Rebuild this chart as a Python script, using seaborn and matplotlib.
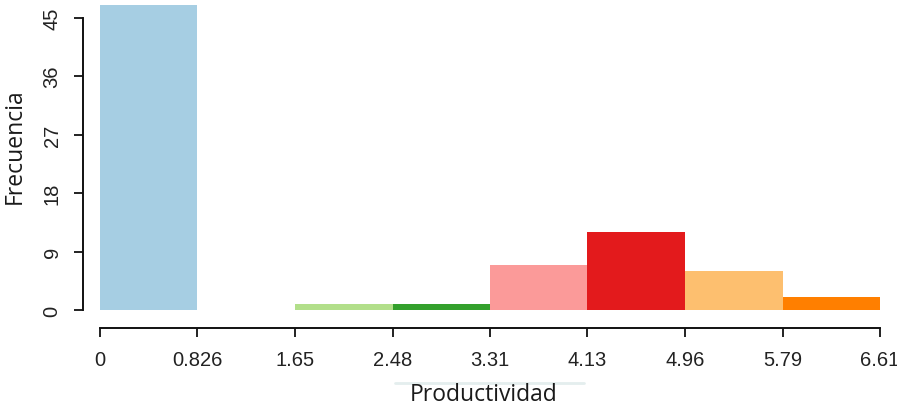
import numpy as np
import seaborn as sns
import matplotlib.pyplot as plt
from matplotlib.lines import Line2D

# bin edges (tick positions) and counts per bin
edges = [0, 0.826, 1.652, 2.479, 3.305, 4.131, 4.957, 5.784, 6.61]
edge_labels = ["0", "0.826", "1.65", "2.48", "3.31", "4.13", "4.96", "5.79", "6.61"]
counts = [47, 0, 1, 1, 7, 12, 6, 2]
y_ticks = [0, 9, 18, 27, 36, 45]

mids = [(a + b) / 2 for a, b in zip(edges[:-1], edges[1:])]
colors = sns.color_palette("Paired", 8)

sns.set_style("white")
plt.rcParams['font.family'] = ['Liberation Sans', 'DejaVu Sans']

W, H = 897, 406
fig = plt.figure(figsize=(W / 100, H / 100), dpi=100)
ax = fig.add_axes([100 / W, (H - 311) / H, 780 / W, 305.5 / H])

sns.histplot(x=mids, weights=counts, bins=edges, ax=ax, stat="count",
             element="bars", linewidth=0, alpha=1)
for patch, c in zip(ax.patches, colors):
    patch.set_facecolor(c)
    patch.set_edgecolor(c)

ax.set_xlim(0, 6.61)
ax.set_ylim(0, 47)

for s in ["top", "right"]:
    ax.spines[s].set_visible(False)
ax.spines["left"].set_position(("outward", 12.2))
ax.spines["bottom"].set_position(("outward", 13))
ax.spines["left"].set_bounds(0, 45)
ax.spines["bottom"].set_bounds(0, 6.61)
for s in ["left", "bottom"]:
    ax.spines[s].set_linewidth(1.4)
    ax.spines[s].set_color("#111111")

ax.set_xticks(edges)
ax.set_xticklabels(edge_labels)
ax.set_yticks(y_ticks)
ax.set_yticklabels([str(v) for v in y_ticks], rotation=90, va="center")
ax.tick_params(axis="both", direction="out", length=6.5, width=1.3, colors="#111111",
               labelsize=14.5, labelcolor="#222222", bottom=True, left=True)
ax.tick_params(axis="x", pad=9)
ax.tick_params(axis="y", pad=9)
ax.set_xlabel("")
ax.set_ylabel("")

fig.text(484 / W, 1 - 395 / H, "Productividad", ha="center", va="center",
         fontsize=16.5, family=["Open Sans", "DejaVu Sans"], color="#1a1a1a")
fig.text(15 / W, 1 - 146 / H, "Frecuencia", ha="center", va="center", rotation=90,
         fontsize=16.5, family=["Open Sans", "DejaVu Sans"], color="#1a1a1a")

# faint highlight line above the x label
fig.add_artist(Line2D([395 / W, 584 / W], [1 - 384 / H, 1 - 384 / H],
                      transform=fig.transFigure, color="#e4eeee", lw=2))

fig.savefig("out.png", dpi=100)
